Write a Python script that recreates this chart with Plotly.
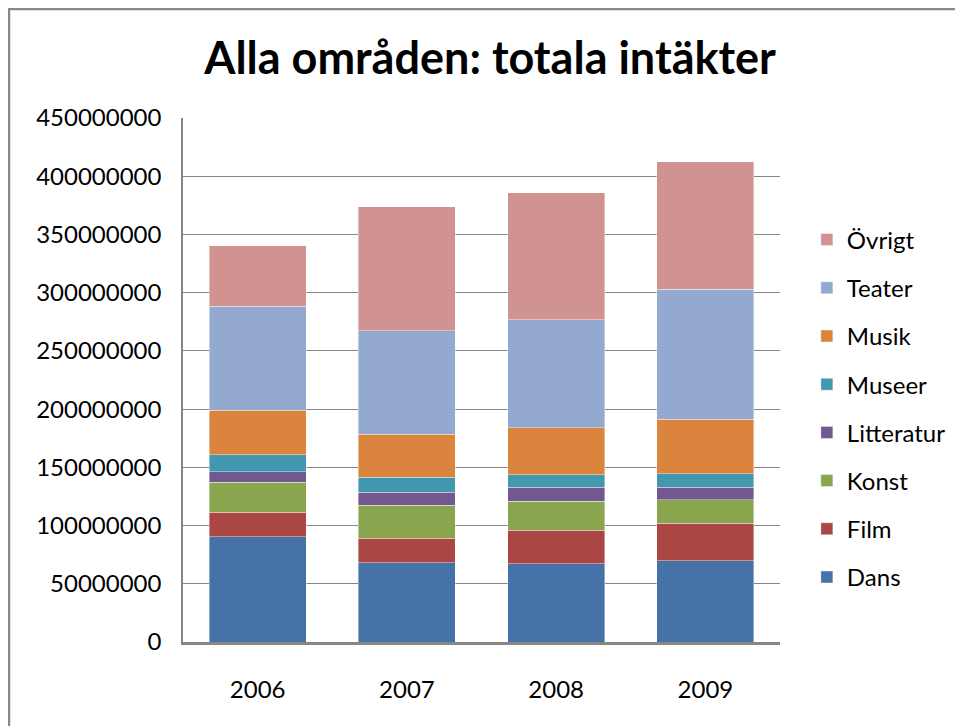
import plotly.graph_objects as go

years = ["2006", "2007", "2008", "2009"]

# segment values (kr)
dans = [90200000, 68000000, 67400000, 69700000]
film = [21100000, 21000000, 28500000, 32200000]
konst = [25700000, 28600000, 24800000, 20300000]
litteratur = [9400000, 11200000, 12300000, 10500000]
museer = [14300000, 12800000, 10600000, 11700000]
musik = [38300000, 36800000, 40500000, 46900000]
teater = [89500000, 89100000, 92800000, 111800000]
ovrigt = [52000000, 106400000, 109000000, 109300000]

series = [
    ("Dans", dans, "#4572A7"),
    ("Film", film, "#AA4643"),
    ("Konst", konst, "#89A54E"),
    ("Litteratur", litteratur, "#71588F"),
    ("Museer", museer, "#4198AF"),
    ("Musik", musik, "#DB843D"),
    ("Teater", teater, "#93A9CF"),
    ("Övrigt", ovrigt, "#D19392"),
]

fig = go.Figure()
for i, (name, vals, col) in enumerate(series):
    fig.add_trace(go.Bar(
        x=years, y=vals, name=name,
        marker=dict(color=col, line=dict(color="rgba(255,255,255,0.5)", width=0.8)),
        legendgroup=name, legendrank=100 - i,
    ))

font = "Lato"
fig.update_layout(
    barmode="stack",
    bargap=0.35,
    width=963, height=726,
    margin=dict(l=175, r=191, t=110, b=92),
    paper_bgcolor="white", plot_bgcolor="white",
    title=dict(text="<b>Alla områden: totala intäkter</b>", x=0.5006, xanchor="center",
               y=0.931, yanchor="middle",
               font=dict(family=font, size=45, color="black")),
    font=dict(family=font, size=24, color="black"),
    legend=dict(x=1.045, xanchor="left", y=0.4456, yanchor="middle",
                font=dict(family=font, size=24, color="black"),
                tracegroupgap=14, traceorder="grouped"),
    showlegend=True,
)
fig.update_yaxes(range=[0, 450000000], dtick=50000000, tickformat="d",
                 showgrid=True, gridcolor="#868686", gridwidth=1.2,
                 showline=True, linecolor="#868686", linewidth=1.5,
                 zeroline=False, ticks="", ticklabelstandoff=15,
                 tickfont=dict(family=font, size=24))
fig.update_xaxes(showline=True, linecolor="#868686", linewidth=2.5,
                 ticks="", ticklabelstandoff=24,
                 tickfont=dict(family=font, size=24))

# outer chart border
fig.add_shape(type="rect", xref="paper", yref="paper",
              x0=-0.2915, y0=-0.2, x1=1.35, y1=1.208,
              line=dict(color="#888888", width=2.5), layer="below")

fig.write_html("out.html")
